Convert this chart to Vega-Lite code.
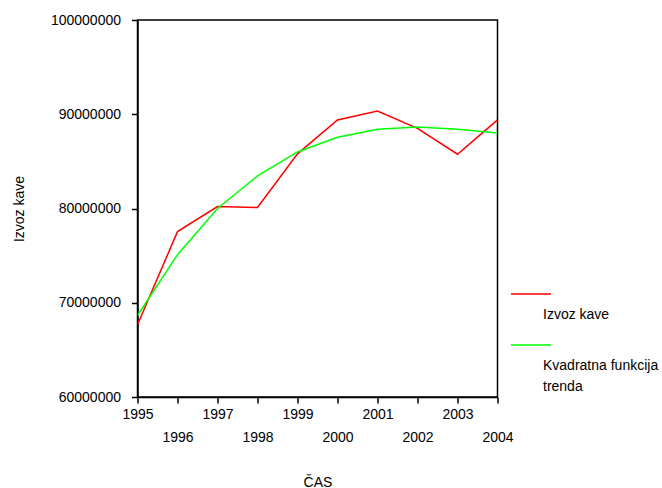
{
  "$schema": "https://vega.github.io/schema/vega-lite/v6.json",
  "autosize": {"type": "none"},
  "padding": {"left": 137.5, "top": 20, "right": 164.5, "bottom": 91},
  "width": 360,
  "height": 377,
  "background": "white",
  "config": {
    "font": "Liberation Sans",
    "view": {"stroke": "black", "strokeWidth": 1.5},
    "style": {"guide-label": {"lineHeight": 21}},
    "axis": {
      "domainColor": "black",
      "domainWidth": 1.5,
      "tickColor": "black",
      "tickWidth": 1.5,
      "tickSize": 6,
      "grid": false,
      "labelFontSize": 14,
      "labelColor": "black",
      "titleFontSize": 14,
      "titleFontWeight": "normal",
      "titleColor": "black",
      "labelOverlap": false,
      "labelFlush": false
    },
    "legend": {
      "labelFontSize": 14,
      "labelColor": "black"
    }
  },
  "data": {
    "values": [
      {"year": 1995, "value": 67660000, "series": "Izvoz kave"},
      {"year": 1996, "value": 77550000, "series": "Izvoz kave"},
      {"year": 1997, "value": 80200000, "series": "Izvoz kave"},
      {"year": 1998, "value": 80100000, "series": "Izvoz kave"},
      {"year": 1999, "value": 85800000, "series": "Izvoz kave"},
      {"year": 2000, "value": 89400000, "series": "Izvoz kave"},
      {"year": 2001, "value": 90350000, "series": "Izvoz kave"},
      {"year": 2002, "value": 88500000, "series": "Izvoz kave"},
      {"year": 2003, "value": 85760000, "series": "Izvoz kave"},
      {"year": 2004, "value": 89400000, "series": "Izvoz kave"},
      {"year": 1995, "value": 68650000, "series": "Kvadratna funkcija trenda"},
      {"year": 1996, "value": 75100000, "series": "Kvadratna funkcija trenda"},
      {"year": 1997, "value": 80000000, "series": "Kvadratna funkcija trenda"},
      {"year": 1998, "value": 83460000, "series": "Kvadratna funkcija trenda"},
      {"year": 1999, "value": 86000000, "series": "Kvadratna funkcija trenda"},
      {"year": 2000, "value": 87560000, "series": "Kvadratna funkcija trenda"},
      {"year": 2001, "value": 88400000, "series": "Kvadratna funkcija trenda"},
      {"year": 2002, "value": 88650000, "series": "Kvadratna funkcija trenda"},
      {"year": 2003, "value": 88400000, "series": "Kvadratna funkcija trenda"},
      {"year": 2004, "value": 88000000, "series": "Kvadratna funkcija trenda"}
    ]
  },
  "mark": {"type": "line", "strokeWidth": 1.5, "clip": true},
  "encoding": {
    "x": {
      "field": "year",
      "type": "quantitative",
      "scale": {"domain": [1995, 2004], "nice": false, "zero": false},
      "axis": {
        "title": "ČAS",
        "values": [1995, 1996, 1997, 1998, 1999, 2000, 2001, 2002, 2003, 2004],
        "labelExpr": "datum.value % 2 == 1 ? '' + datum.value : ['', '' + datum.value]",
        "labelLineHeight": 23,
        "labelPadding": 4,
        "titlePadding": 31
      }
    },
    "y": {
      "field": "value",
      "type": "quantitative",
      "scale": {"domain": [60000000, 100000000], "nice": false, "zero": false},
      "axis": {
        "title": "Izvoz kave",
        "values": [60000000, 70000000, 80000000, 90000000, 100000000],
        "format": "d",
        "labelPadding": 11,
        "titlePadding": 24
      }
    },
    "color": {
      "field": "series",
      "type": "nominal",
      "scale": {"domain": ["Izvoz kave", "Kvadratna funkcija trenda"], "range": ["#ff0000", "#00ff00"]},
      "legend": {
        "title": null,
        "orient": "none",
        "legendX": 372.5,
        "legendY": 253,
        "symbolType": "stroke",
        "symbolSize": 1600,
        "symbolStrokeWidth": 1.5,
        "labelOffset": -9,
        "labelExpr": "datum.label == 'Izvoz kave' ? ['', 'Izvoz kave'] : ['', 'Kvadratna funkcija', 'trenda']"
      }
    }
  }
}
